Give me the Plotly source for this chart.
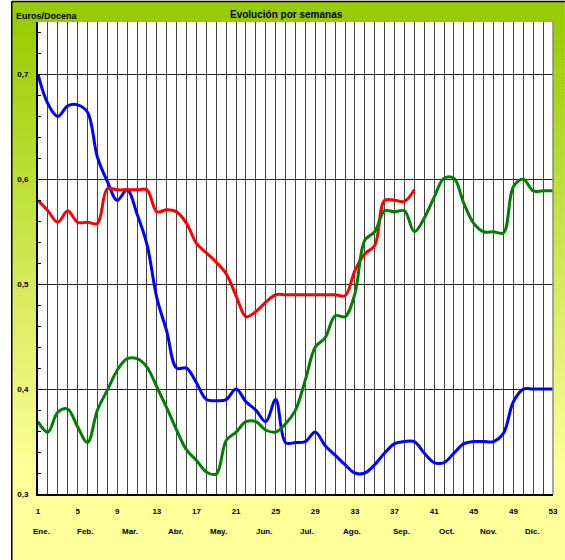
import plotly.graph_objects as go

weeks = list(range(1, 54))
blue = [0.700, 0.672, 0.660, 0.670, 0.671, 0.664, 0.621, 0.598, 0.580, 0.590,
        0.567, 0.538, 0.487, 0.455, 0.420, 0.420, 0.406, 0.390, 0.389, 0.390,
        0.400, 0.388, 0.380, 0.369, 0.390, 0.349, 0.349, 0.350, 0.359, 0.346,
        0.337, 0.328, 0.320, 0.320, 0.328, 0.339, 0.348, 0.350, 0.350, 0.339,
        0.330, 0.330, 0.339, 0.348, 0.350, 0.350, 0.350, 0.358, 0.388, 0.400,
        0.400, 0.400, 0.400]
red = [0.580, 0.570, 0.559, 0.570, 0.559, 0.559, 0.558, 0.591, 0.590, 0.590,
       0.590, 0.590, 0.569, 0.571, 0.569, 0.558, 0.539, 0.530, 0.521, 0.510,
       0.489, 0.469, 0.474, 0.483, 0.490, 0.490, 0.490, 0.490, 0.490, 0.490,
       0.490, 0.489, 0.513, 0.529, 0.537, 0.580, 0.580, 0.579, 0.590]
green = [0.369, 0.359, 0.378, 0.381, 0.364, 0.349, 0.380, 0.399, 0.418, 0.429,
         0.429, 0.421, 0.402, 0.382, 0.361, 0.342, 0.332, 0.321, 0.319, 0.351,
         0.359, 0.369, 0.369, 0.361, 0.359, 0.367, 0.380, 0.409, 0.440, 0.449,
         0.470, 0.469, 0.491, 0.542, 0.550, 0.570, 0.569, 0.570, 0.550, 0.563,
         0.583, 0.601, 0.601, 0.577, 0.558, 0.550, 0.550, 0.549, 0.593, 0.600,
         0.589, 0.589, 0.589]
week_ticks = list(range(1, 54, 4))
y_ticks = [0.3, 0.4, 0.5, 0.6, 0.7]
months = ["Ene.", "Feb.", "Mar.", "Abr.", "May.", "Jun.", "Jul.", "Ago.", "Sep.", "Oct.", "Nov.", "Dic."]
month_pos = [1.4, 5.7, 10.3, 14.9, 19.2, 23.8, 28.2, 32.7, 37.7, 42.3, 46.5, 50.9]
title = "Evolución por semanas"
y_title = "Euros/Docena"

W, H = 565, 560
L, R, T, B = 38, 558, 22, 494
FONT = "Liberation Sans, Arial, sans-serif"

def px(x):
    return (x - L) / (R - L)

def py(y):
    return (B - y) / (B - T)

fig = go.Figure()
for vals, col in [(blue, "#0000FF"), (red, "#FF0000"), (green, "#008000")]:
    fig.add_trace(go.Scatter(x=weeks[:len(vals)], y=vals, mode="lines",
                             line=dict(color=col, width=3, shape="spline", smoothing=1),
                             hoverinfo="skip", showlegend=False))

shapes = []
# gradient background (green top -> yellow bottom)
c0 = (153, 204, 0)
c1 = (255, 255, 153)
g0, g1 = 20, 470
step = 3
y = 2
while y < H:
    t = min(max((y - g0) / (g1 - g0), 0), 1)
    c = tuple(round(a + (b - a) * t) for a, b in zip(c0, c1))
    shapes.append(dict(type="rect", xref="paper", yref="paper", layer="below",
                       x0=px(11), x1=px(W + 5), y0=py(y), y1=py(min(y + step + 0.5, H + 5)),
                       line=dict(width=0), fillcolor="rgb(%d,%d,%d)" % c))
    y += step
# plot area white
shapes.append(dict(type="rect", xref="paper", yref="paper", layer="below",
                   x0=0, x1=1, y0=0, y1=1, line=dict(width=0), fillcolor="white"))
# frame
shapes.append(dict(type="line", xref="paper", yref="paper", x0=px(11.5), x1=px(11.5),
                   y0=py(1.5), y1=py(H + 5), line=dict(color="black", width=1.5)))
shapes.append(dict(type="line", xref="paper", yref="paper", x0=px(11.5), x1=px(W + 5),
                   y0=py(1.5), y1=py(1.5), line=dict(color="black", width=1.5)))
shapes.append(dict(type="line", xref="paper", yref="paper", x0=1, x1=1,
                   y0=0, y1=1, line=dict(color="#888888", width=1.5)))

annotations = [
    dict(text="<b>%s</b>" % title, xref="paper", yref="paper", x=px(289), y=py(14),
         showarrow=False, font=dict(family=FONT, size=10, color="black"),
         xanchor="center", yanchor="middle"),
    dict(text="<b>%s</b>" % y_title, xref="paper", yref="paper", x=px(14), y=py(16),
         showarrow=False, font=dict(family=FONT, size=9, color="black"),
         xanchor="left", yanchor="middle"),
]
for m, p in zip(months, month_pos):
    annotations.append(dict(text="<b>%s</b>" % m, xref="x", yref="paper", x=p, y=py(531),
                            showarrow=False, font=dict(family=FONT, size=8, color="black"),
                            xanchor="center", yanchor="middle"))

fig.update_layout(
    width=W, height=H, autosize=False,
    margin=dict(l=L, r=W - R, t=T, b=H - B, pad=0),
    paper_bgcolor="white", plot_bgcolor="white",
    separators=",.",
    shapes=shapes, annotations=annotations,
    xaxis=dict(range=[1, 53], tickvals=week_ticks, showgrid=True, gridcolor="#444444",
               gridwidth=1, zeroline=False, showline=True, linecolor="black", linewidth=2,
               ticks="", ticklabelstandoff=8,
               tickfont=dict(family=FONT, size=8, color="black", weight="bold"),
               minor=dict(dtick=1, tick0=1, showgrid=True, gridcolor="#444444", gridwidth=1)),
    yaxis=dict(range=[0.3, 0.75], tickvals=y_ticks, tickformat=".1f", showgrid=True,
               gridcolor="#222222", gridwidth=1, zeroline=False, showline=True,
               linecolor="black", linewidth=2, ticks="", ticklabelstandoff=6,
               tickfont=dict(family=FONT, size=8, color="black", weight="bold"),
               minor=dict(dtick=0.02, tick0=0.3, ticks="inside", ticklen=3,
                          tickcolor="black", showgrid=False)),
)

fig.write_html("out.html", config={"displayModeBar": False},
               post_script="document.body.style.margin='0px';document.body.style.padding='0px';")
